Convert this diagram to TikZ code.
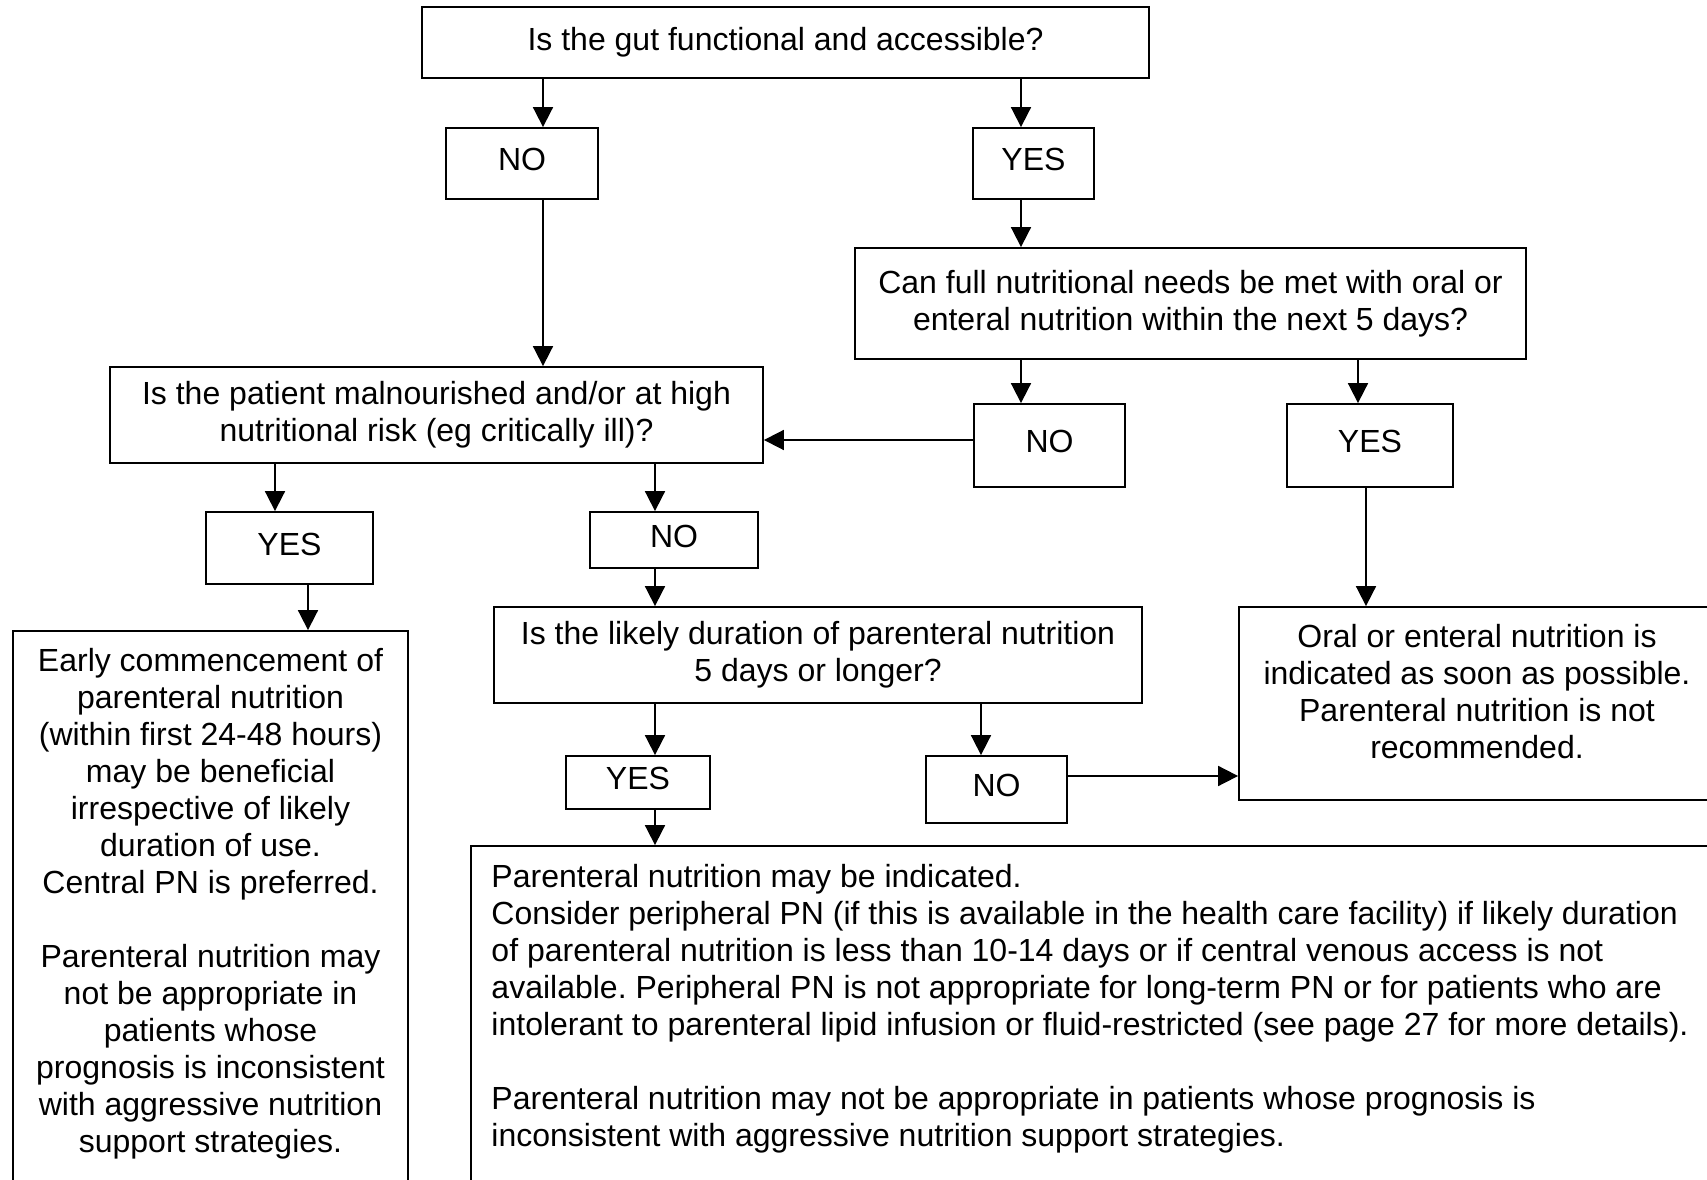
\documentclass[tikz,border=0pt]{standalone}
\usepackage{fontspec}
\setmainfont{Liberation Sans}
\usepackage{tikz}
\usetikzlibrary{arrows.meta, positioning}
\frenchspacing
\tikzset{
  flow/.style={draw, line width=0.9bp, inner sep=0pt, font=\fontsize{16bp}{18.5bp}\selectfont},
  question/.style={flow, align=center},
  answer/.style={flow, text depth=4bp},
  panel/.style={flow},
  note/.style={inner sep=0pt, font=\fontsize{16bp}{18.5bp}\selectfont},
  arrow/.style={-{Triangle[length=10bp, width=10bp]}, line width=0.9bp}
}

\begin{document}
\begin{tikzpicture}[x=0.5bp, y=-0.5bp]
  \useasboundingbox (0,0) rectangle (1707,1180);
  \clip (0,0) rectangle (1707,1180);

  % Nodes
  \node[question, minimum width=363.5bp, minimum height=35.5bp] (gut) at (785.5,42.5) {Is the gut functional and accessible?};
  \node[answer, minimum width=76bp, minimum height=35.5bp] (no1) at (522,163.5) {NO};
  \node[answer, minimum width=60.5bp, minimum height=35.5bp] (yes1) at (1033.5,163.5) {YES};
  \node[question, minimum width=335.5bp, minimum height=55.5bp] (can) at (1190.5,303.5) {Can full nutritional needs be met with oral or\\enteral nutrition within the next 5 days?};
  \node[question, minimum width=326.5bp, minimum height=48bp] (mal) at (436.5,415) {Is the patient malnourished and/or at high\\nutritional risk (eg critically ill)?};
  \node[answer, minimum width=75.5bp, minimum height=41.5bp] (no2) at (1049.5,445.5) {NO};
  \node[answer, minimum width=83bp, minimum height=41.5bp] (yes2) at (1370,445.5) {YES};
  \node[answer, minimum width=83.5bp, minimum height=36bp] (yes3) at (289.5,548) {YES};
  \node[answer, minimum width=84bp, minimum height=28bp] (no3) at (674,540) {NO};
  \node[question, minimum width=324bp, minimum height=48bp] (likely) at (818,655) {Is the likely duration of parenteral nutrition\\5 days or longer?};
  \node[answer, minimum width=72bp, minimum height=26.5bp] (yes4) at (638,782.5) {YES};
  \node[answer, minimum width=70.5bp, minimum height=33.5bp] (no4) at (996.5,789.5) {NO};
  \node[panel, minimum width=238bp, minimum height=96.5bp] (oral) at (1477,703.5) {};
  \node[panel, minimum width=197.5bp, minimum height=300bp] (early) at (210.5,931) {};
  \node[panel, minimum width=625bp, minimum height=200bp] (central) at (1096,1046) {};

  \node[note, align=center, below=9bp of oral.north] (oraltext) {Oral or enteral nutrition is\\indicated as soon as possible.\\Parenteral nutrition is not\\recommended.};
  \node[note, align=center, below=9bp of early.north] (earlytext) {Early commencement of\\parenteral nutrition\\(within first 24-48 hours)\\may be beneficial\\irrespective of likely\\duration of use.\\Central PN is preferred.\\[18.5bp]Parenteral nutrition may\\not be appropriate in\\patients whose\\prognosis is inconsistent\\with aggressive nutrition\\support strategies.};
  \node[note, align=left, below right=9.5bp and 10.5bp of central.north west] (centraltext) {Parenteral nutrition may be indicated.\\Consider peripheral PN (if this is available in the health care facility) if likely duration\\of parenteral nutrition is less than 10-14 days or if central venous access is not\\available. Peripheral PN is not appropriate for long-term PN or for patients who are\\intolerant to parenteral lipid infusion or fluid-restricted (see page 27 for more details).\\[18.5bp]Parenteral nutrition may not be appropriate in patients whose prognosis is\\inconsistent with aggressive nutrition support strategies.};

  % Lanes
  \coordinate (xno) at (543,0);
  \coordinate (xyes) at (1021,0);
  \coordinate (xcanyes) at (1358,0);
  \coordinate (xoral) at (1366,0);
  \coordinate (xmalyes) at (275,0);
  \coordinate (xearly) at (308,0);
  \coordinate (xmid) at (655,0);
  \coordinate (xlikno) at (981,0);
  \coordinate (yno2) at (0,440);
  \coordinate (yno4) at (0,776);

  % Arrows
  \draw[arrow] (gut.south -| xno) -- (no1.north -| xno);
  \draw[arrow] (gut.south -| xyes) -- (yes1.north -| xyes);
  \draw[arrow] (no1.south -| xno) -- (mal.north -| xno);
  \draw[arrow] (yes1.south -| xyes) -- (can.north -| xyes);
  \draw[arrow] (can.south -| xyes) -- (no2.north -| xyes);
  \draw[arrow] (can.south -| xcanyes) -- (yes2.north -| xcanyes);
  \draw[arrow] (no2.west |- yno2) -- (mal.east |- yno2);
  \draw[arrow] (yes2.south -| xoral) -- (oral.north -| xoral);
  \draw[arrow] (mal.south -| xmalyes) -- (yes3.north -| xmalyes);
  \draw[arrow] (mal.south -| xmid) -- (no3.north -| xmid);
  \draw[arrow] (yes3.south -| xearly) -- (early.north -| xearly);
  \draw[arrow] (no3.south -| xmid) -- (likely.north -| xmid);
  \draw[arrow] (likely.south -| xmid) -- (yes4.north -| xmid);
  \draw[arrow] (likely.south -| xlikno) -- (no4.north -| xlikno);
  \draw[arrow] (yes4.south -| xmid) -- (central.north -| xmid);
  \draw[arrow] (no4.east |- yno4) -- (oral.west |- yno4);
\end{tikzpicture}
\end{document}
